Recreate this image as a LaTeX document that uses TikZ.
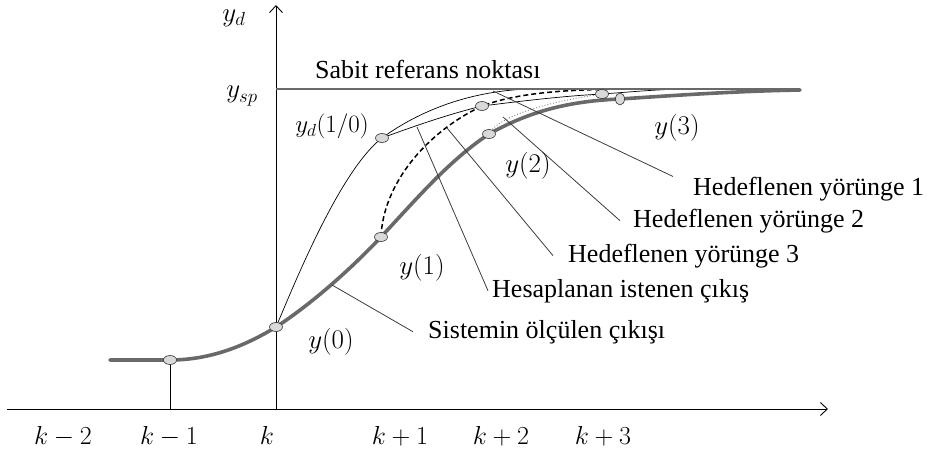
\RequirePackage{fix-cm}
\documentclass[tikz,border=0pt]{standalone}
\usepackage{fontspec}
\setmainfont{Liberation Serif}
\usetikzlibrary{arrows.meta,shapes.geometric,backgrounds}
\definecolor{measgray}{RGB}{105,105,105}
\definecolor{leadgray}{RGB}{60,60,60}

\begin{document}
\begin{tikzpicture}[x=1pt,y=-1pt,
  ax/.style={line width=0.9pt, -{Straight Barb[length=7pt,width=13pt]}},
  sp/.style={line width=1.4pt, draw=measgray},
  meas/.style={line width=3.6pt, draw=measgray, line cap=round},
  traj/.style={line width=0.7pt, black},
  lead/.style={draw=leadgray, line width=0.8pt},
  dot/.style={ellipse, draw=black!80, fill=gray!30, line width=0.6pt,
              minimum width=13pt, minimum height=9pt, inner sep=0pt},
  lbl/.style={font=\fontsize{26}{30}\selectfont, anchor=base west, inner ysep=0pt},
  mlbl/.style={font=\fontsize{27}{32}\selectfont, inner sep=0pt},
  tick/.style={font=\fontsize{26}{30}\selectfont, anchor=base, inner sep=0pt},
]
\useasboundingbox (0,0) rectangle (931,452);

% axes
\coordinate (xs) at (7,409);
\coordinate (xe) at (828,409);
\coordinate (o)  at (276,409);
\coordinate (ye) at (276,5);
\coordinate (spl) at (276,89);
\coordinate (spr) at (798,89);
\draw[ax] (xs) -- (xe);
\draw[ax] (o) -- (ye);
\draw[sp] (spl) -- (spr);

% sample points
\node[dot] (km1) at (170,360) {};
\node[dot] (y0)  at (276,327) {};
\node[dot] (ya)  at (382,138) {};
\node[dot] (y1)  at (381,237) {};
\node[dot] (yb)  at (482,106) {};
\node[dot] (y2)  at (489,134) {};
\node[dot] (yc)  at (602,94)  {};
\node[dot, minimum width=9pt, minimum height=12pt] (y3) at (620,99) {};
\coordinate (km1b) at (170,409);
\coordinate (ms) at (110,360);
\coordinate (me) at (800,90);

% trajectories
\begin{scope}[on background layer]
\draw[traj] (km1.center) -- (km1b);
\draw[traj] (y0.center) .. controls (290,295) and (338,172) .. (ya.center)
  .. controls (412,116) and (462,91) .. (530,89);
\draw[traj] (ya.center) .. controls (420,124) and (450,114) .. (yb.center)
  .. controls (530,100) and (565,96) .. (yc.center)
  .. controls (630,92) and (650,90) .. (680,89);
\draw[line width=1.5pt, dash pattern=on 5pt off 3pt]
  (y1.center) .. controls (383,185) and (425,133) .. (yb.center)
  .. controls (525,90) and (585,89) .. (650,89);
\draw[gray, dotted, line width=0.9pt]
  (y2.center) .. controls (497,118) and (540,103) .. (yc.center);
\draw[meas] (ms) -- (km1.center) .. controls (210,360) and (245,346) .. (y0.center)
  .. controls (310,305) and (350,270) .. (y1.center)
  .. controls (420,195) and (450,160) .. (y2.center)
  .. controls (530,111) and (570,101) .. (y3.center)
  .. controls (680,95) and (740,91) .. (me);
\end{scope}

% leader labels
\node[lbl, inner xsep=20pt] (h1) at (673,195) {Hedeflenen yörünge 1};
\node[lbl, inner xsep=13pt] (h2) at (620,227) {Hedeflenen yörünge 2};
\node[lbl, inner xsep=15pt] (h3) at (553,262) {Hedeflenen yörünge 3};
\node[lbl, inner xsep=4pt]  (h4) at (488,297) {Hesaplanan istenen çıkış};
\node[lbl, inner xsep=15pt] (h5) at (413,338) {Sistemin ölçülen çıkışı};
\coordinate (t1) at (493,91);
\coordinate (t2) at (503,117);
\coordinate (t3) at (447,128);
\coordinate (t4) at (417,127);
\coordinate (t5) at (332,285);
\draw[lead] (t1) -- (h1.north west);
\draw[lead] (t2) -- (h2.west);
\draw[lead] (t3) -- (h3.west);
\draw[lead] (t4) -- (h4.west);
\draw[lead] (t5) -- (h5.west);

% texts
\node[lbl, inner sep=0pt] (sab) at (315,78) {Sabit referans noktası};
\node[mlbl] (lyd)  at (234,18)  {$y_d$};
\node[mlbl] (lysp) at (242,96)  {$y_{sp}$};
\node[mlbl, font=\fontsize{25}{30}\selectfont] (lya) at (332,126) {$y_d(1/0)$};
\node[mlbl] (ly0) at (331,342) {$y(0)$};
\node[mlbl] (ly1) at (422,268) {$y(1)$};
\node[mlbl] (ly2) at (528,166) {$y(2)$};
\node[mlbl] (ly3) at (677,128) {$y(3)$};

% axis ticks
\foreach \x/\t in {63/k-2,169/k-1,267/k,400/k+1,501/k+2,603/k+3}
  \node[tick] at (\x,444) {$\t$};
\end{tikzpicture}
\end{document}
